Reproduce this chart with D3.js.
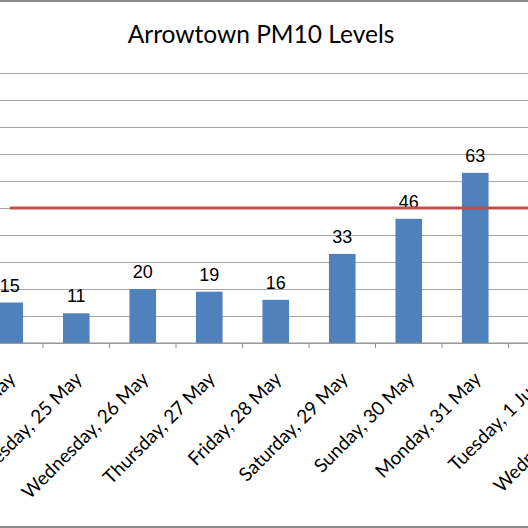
<!DOCTYPE html>
<html>
<head>
<meta charset="utf-8">
<script src="https://cdn.jsdelivr.net/npm/d3@7"></script>
<style>
  body { margin: 0; background: #fff; }
  svg { display: block; }
</style>
</head>
<body>
<div id="canvas"></div>
<script>

var categories = ["Monday, 24 May", "Tuesday, 25 May", "Wednesday, 26 May", "Thursday, 27 May",
                  "Friday, 28 May", "Saturday, 29 May", "Sunday, 30 May", "Monday, 31 May",
                  "Tuesday, 1 June", "Wednesday, 2 June"];
var pm10 = [15, 11, 20, 19, 16, 33, 46, 63, null, null];
var standard = [50, 50, 50, 50, 50, 50, 50, 50, 50, 50];
var yTicks = [0, 10, 20, 30, 40, 50, 60, 70, 80, 90, 100];

var width = 528;
var height = 528;

var svgContainer = d3.select("#canvas").append("svg")
                     .attr("width", width)
                     .attr("height", height);

// chart area is cropped on the left and right, so the range runs past the edges
var x = d3.scaleBand()
          .domain(categories)
          .range([-23.5, -23.5 + categories.length * 66.5])
          .padding(0);

var y = d3.scaleLinear()
          .domain([0, 100])
          .range([343, 73]);

// border of the chart
svgContainer.append("line")
            .attr("x1", 0).attr("x2", width)
            .attr("y1", 1).attr("y2", 1)
            .attr("stroke", "#8c8c8c").attr("stroke-width", 2);
svgContainer.append("line")
            .attr("x1", 0).attr("x2", width)
            .attr("y1", 527).attr("y2", 527)
            .attr("stroke", "#8c8c8c").attr("stroke-width", 2);

// title
svgContainer.append("text")
            .attr("x", 261)
            .attr("y", 43)
            .attr("text-anchor", "middle")
            .style("font-family", "Lato, 'Open Sans', sans-serif")
            .style("font-size", "24.5px")
            .attr("fill", "#000")
            .text("Arrowtown PM10 Levels");

// gridlines
var yAxis = d3.axisLeft(y)
              .tickValues(yTicks)
              .tickSize(-width)
              .tickFormat("");
var gy = svgContainer.append("g")
                     .call(yAxis);
gy.select(".domain").remove();
gy.selectAll(".tick line").attr("stroke", "#a6a6a6").attr("stroke-width", 1);

// bars
var barWidth = x.step() * 0.4;
var barData = pm10.map(function(v, i) { return {cat: categories[i], v: v}; })
                  .filter(function(d) { return d.v != null; });

svgContainer.selectAll(".bar")
            .data(barData)
            .enter().append("rect")
            .attr("class", "bar")
            .attr("x", function(d) { return x(d.cat) + x.bandwidth() / 2 - barWidth / 2; })
            .attr("y", function(d) { return y(d.v); })
            .attr("width", barWidth)
            .attr("height", function(d) { return y(0) - y(d.v); })
            .attr("fill", "#4f81bd");

// value labels
svgContainer.selectAll(".val")
            .data(barData)
            .enter().append("text")
            .attr("class", "val")
            .attr("x", function(d) { return x(d.cat) + x.bandwidth() / 2; })
            .attr("y", function(d) { return y(d.v) - 11; })
            .attr("text-anchor", "middle")
            .style("font-family", "'Liberation Sans', Arial, sans-serif")
            .style("font-size", "18px")
            .attr("fill", "#000")
            .text(function(d) { return d.v; });

// standard line
var line = d3.line()
             .x(function(d, i) { return x(categories[i]) + x.bandwidth() / 2; })
             .y(function(d) { return y(d); });
svgContainer.append("path")
            .datum(standard)
            .attr("d", line)
            .attr("fill", "none")
            .attr("stroke", "#c0504d")
            .attr("stroke-width", 3);

// x axis
var gx = svgContainer.append("g")
                     .attr("transform", "translate(0," + y(0) + ")");
gx.append("line")
  .attr("x1", 0).attr("x2", width)
  .attr("y1", 0).attr("y2", 0)
  .attr("stroke", "#8c8c8c").attr("stroke-width", 1);

// tick marks sit on the band edges
gx.selectAll(".edge")
  .data(categories)
  .enter().append("line")
  .attr("class", "edge")
  .attr("x1", function(d) { return x(d); })
  .attr("x2", function(d) { return x(d); })
  .attr("y1", 0).attr("y2", 5)
  .attr("stroke", "#8c8c8c");

// rotated category labels
svgContainer.selectAll(".cat")
            .data(categories)
            .enter().append("text")
            .attr("class", "cat")
            .attr("transform", function(d) {
                return "translate(" + (x(d) + x.bandwidth() / 2 + 7) + ",380) rotate(-45)";
            })
            .attr("text-anchor", "end")
            .style("font-family", "Lato, 'Open Sans', sans-serif")
            .style("font-size", "19px")
            .attr("fill", "#000")
            .text(function(d) { return d; });

</script>
</body>
</html>
